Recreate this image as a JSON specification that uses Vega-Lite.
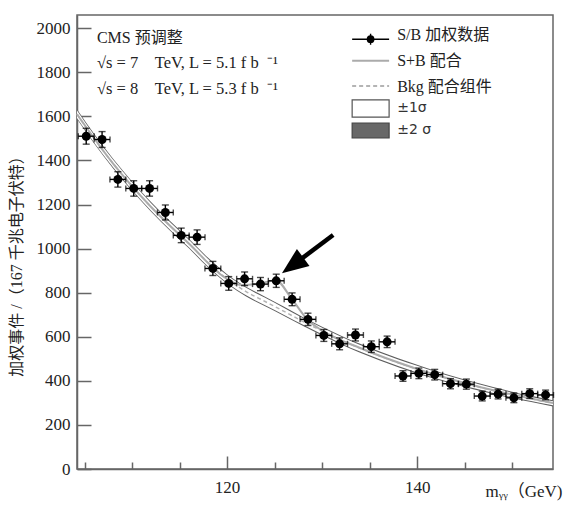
{
  "$schema": "https://vega.github.io/schema/vega-lite/v6.json",
  "width": 476,
  "height": 454,
  "autosize": {"type": "none"},
  "padding": {"left": 77, "top": 15, "right": 13, "bottom": 37},
  "background": "white",
  "config": {
    "view": {"stroke": "#666", "strokeWidth": 1.5},
    "font": "Liberation Serif",
    "axis": {
      "grid": false,
      "domainColor": "#666",
      "domainWidth": 1.5,
      "tickColor": "#666",
      "tickWidth": 1.5,
      "labelFont": "Liberation Serif, serif",
      "labelFontSize": 17,
      "labelColor": "#222",
      "labelFlush": false,
      "labelOverlap": false,
      "titleFont": "Liberation Serif, Noto Sans CJK SC",
      "titleFontWeight": "normal",
      "titleColor": "#222"
    }
  },
  "datasets": {
    "points": [
      {"m": 105.17, "n": 1510, "err": 36, "hw": 0.835},
      {"m": 106.84, "n": 1495, "err": 36, "hw": 0.835},
      {"m": 108.50, "n": 1314, "err": 35, "hw": 0.835},
      {"m": 110.17, "n": 1273, "err": 35, "hw": 0.835},
      {"m": 111.84, "n": 1273, "err": 35, "hw": 0.835},
      {"m": 113.50, "n": 1164, "err": 34, "hw": 0.835},
      {"m": 115.17, "n": 1060, "err": 33, "hw": 0.835},
      {"m": 116.84, "n": 1052, "err": 33, "hw": 0.835},
      {"m": 118.50, "n": 910, "err": 32, "hw": 0.835},
      {"m": 120.17, "n": 842, "err": 31, "hw": 0.835},
      {"m": 121.84, "n": 863, "err": 31, "hw": 0.835},
      {"m": 123.51, "n": 839, "err": 30, "hw": 0.835},
      {"m": 125.17, "n": 854, "err": 30, "hw": 0.835},
      {"m": 126.84, "n": 770, "err": 29, "hw": 0.835},
      {"m": 128.51, "n": 679, "err": 28, "hw": 0.835},
      {"m": 130.18, "n": 606, "err": 27, "hw": 0.835},
      {"m": 131.84, "n": 568, "err": 27, "hw": 0.835},
      {"m": 133.51, "n": 608, "err": 27, "hw": 0.835},
      {"m": 135.18, "n": 555, "err": 26, "hw": 0.835},
      {"m": 136.84, "n": 577, "err": 26, "hw": 0.835},
      {"m": 138.51, "n": 422, "err": 24, "hw": 0.835},
      {"m": 140.18, "n": 434, "err": 24, "hw": 0.835},
      {"m": 141.85, "n": 428, "err": 24, "hw": 0.835},
      {"m": 143.51, "n": 387, "err": 23, "hw": 0.835},
      {"m": 145.18, "n": 385, "err": 23, "hw": 0.835},
      {"m": 146.85, "n": 331, "err": 22, "hw": 0.835},
      {"m": 148.52, "n": 340, "err": 22, "hw": 0.835},
      {"m": 150.18, "n": 323, "err": 22, "hw": 0.835},
      {"m": 151.85, "n": 342, "err": 22, "hw": 0.835},
      {"m": 153.52, "n": 336, "err": 22, "hw": 0.835}
    ],
    "bkg": [
      {"m": 104.2, "c": 1610, "lo2": 1588, "lo1": 1593, "hi1": 1627, "hi2": 1632},
      {"m": 106, "c": 1499, "lo2": 1477, "lo1": 1482, "hi1": 1516, "hi2": 1521},
      {"m": 108, "c": 1386, "lo2": 1364, "lo1": 1369, "hi1": 1403, "hi2": 1408},
      {"m": 110, "c": 1283, "lo2": 1261, "lo1": 1266, "hi1": 1300, "hi2": 1305},
      {"m": 112, "c": 1189, "lo2": 1167, "lo1": 1172, "hi1": 1206, "hi2": 1211},
      {"m": 114, "c": 1103, "lo2": 1081, "lo1": 1086, "hi1": 1120, "hi2": 1125},
      {"m": 116, "c": 1022, "lo2": 1000, "lo1": 1005, "hi1": 1039, "hi2": 1044},
      {"m": 118, "c": 936, "lo2": 914, "lo1": 919, "hi1": 953, "hi2": 958},
      {"m": 120, "c": 862, "lo2": 840, "lo1": 845, "hi1": 879, "hi2": 884},
      {"m": 122, "c": 805, "lo2": 783, "lo1": 788, "hi1": 822, "hi2": 827},
      {"m": 124, "c": 760, "lo2": 738, "lo1": 743, "hi1": 777, "hi2": 782},
      {"m": 126, "c": 715, "lo2": 694, "lo1": 699, "hi1": 731, "hi2": 736},
      {"m": 128, "c": 669, "lo2": 649, "lo1": 654, "hi1": 684, "hi2": 689},
      {"m": 130, "c": 626, "lo2": 606, "lo1": 611, "hi1": 641, "hi2": 646},
      {"m": 132, "c": 585, "lo2": 565, "lo1": 570, "hi1": 600, "hi2": 605},
      {"m": 134, "c": 548, "lo2": 528, "lo1": 533, "hi1": 563, "hi2": 568},
      {"m": 136, "c": 514, "lo2": 494, "lo1": 499, "hi1": 529, "hi2": 534},
      {"m": 138, "c": 482, "lo2": 462, "lo1": 467, "hi1": 497, "hi2": 502},
      {"m": 140, "c": 453, "lo2": 433, "lo1": 438, "hi1": 468, "hi2": 473},
      {"m": 142, "c": 426, "lo2": 407, "lo1": 412, "hi1": 440, "hi2": 445},
      {"m": 144, "c": 401, "lo2": 383, "lo1": 388, "hi1": 414, "hi2": 419},
      {"m": 146, "c": 378, "lo2": 361, "lo1": 366, "hi1": 390, "hi2": 395},
      {"m": 148, "c": 356, "lo2": 340, "lo1": 345, "hi1": 367, "hi2": 372},
      {"m": 150, "c": 336, "lo2": 321, "lo1": 326, "hi1": 346, "hi2": 351},
      {"m": 152, "c": 318, "lo2": 304, "lo1": 309, "hi1": 327, "hi2": 332},
      {"m": 154.3, "c": 298, "lo2": 284, "lo1": 289, "hi1": 307, "hi2": 312}
    ],
    "sb": [
      {"m": 104.2, "n": 1610},
      {"m": 108, "n": 1386},
      {"m": 112, "n": 1189},
      {"m": 116, "n": 1022},
      {"m": 120, "n": 862},
      {"m": 121.5, "n": 835},
      {"m": 123.5, "n": 842},
      {"m": 125.1, "n": 857},
      {"m": 126.8, "n": 772},
      {"m": 128.5, "n": 676},
      {"m": 130, "n": 628},
      {"m": 134, "n": 549},
      {"m": 140, "n": 454},
      {"m": 146, "n": 379},
      {"m": 154.3, "n": 299}
    ],
    "one": [{}]
  },
  "layer": [
    {
      "data": {"name": "bkg"},
      "mark": {"type": "area", "color": "#5e5e5e", "interpolate": "monotone"},
      "encoding": {
        "x": {
          "field": "m",
          "type": "quantitative",
          "title": "mᵧᵧ（GeV)",
          "scale": {"domain": [104.2, 154.3], "nice": false, "zero": false},
          "axis": {
            "labelFont": "Liberation Serif, serif",
            "titleFont": "Liberation Serif, Noto Sans CJK SC",
            "titleFontSize": 17,
            "titleAnchor": "end",
            "titleAlign": "right",
            "titleBaseline": "top",
            "titleX": 485,
            "titleY": 14,
            "values": [105, 110, 115, 120, 125, 130, 135, 140, 145, 150],
            "labelExpr": "datum.value % 20 === 0 ? datum.value : ''",
            "labelPadding": 23,
            "tickSize": {"condition": {"test": "datum.value % 20 === 0", "value": -13}, "value": -7}
          }
        },
        "y": {
          "field": "lo2",
          "type": "quantitative",
          "title": "加权事件 /（167 千兆电子伏特）",
          "scale": {"domain": [0, 2060], "nice": false},
          "axis": {
            "labelFont": "Liberation Serif, serif",
            "titleFont": "Liberation Serif, Noto Sans CJK SC",
            "titleFontSize": 16,
            "titleAngle": -90,
            "titleAlign": "center",
            "titleBaseline": "middle",
            "titleX": -61,
            "titleY": 247,
            "values": [0, 50, 100, 150, 200, 250, 300, 350, 400, 450, 500, 550, 600, 650, 700, 750, 800, 850, 900, 950, 1000, 1050, 1100, 1150, 1200, 1250, 1300, 1350, 1400, 1450, 1500, 1550, 1600, 1650, 1700, 1750, 1800, 1850, 1900, 1950, 2000, 2050],
            "labelExpr": "datum.value % 200 === 0 ? datum.value : ''",
            "labelPadding": 21,
            "tickSize": {"condition": {"test": "datum.value % 200 === 0", "value": -14}, "value": -8}
          }
        },
        "y2": {"field": "hi2"}
      }
    },
    {
      "data": {"name": "bkg"},
      "mark": {"type": "area", "color": "white", "interpolate": "monotone"},
      "encoding": {
        "x": {"field": "m", "type": "quantitative", "title": "mᵧᵧ（GeV)"},
        "y": {"field": "lo1", "type": "quantitative", "title": "加权事件 /（167 千兆电子伏特）"},
        "y2": {"field": "hi1"}
      }
    },
    {
      "data": {"name": "bkg"},
      "mark": {"type": "line", "color": "#b4b4b4", "strokeWidth": 1.5, "strokeDash": [4, 3], "interpolate": "monotone"},
      "encoding": {
        "x": {"field": "m", "type": "quantitative", "title": "mᵧᵧ（GeV)"},
        "y": {"field": "c", "type": "quantitative", "title": "加权事件 /（167 千兆电子伏特）"}
      }
    },
    {
      "data": {"name": "sb"},
      "mark": {"type": "line", "color": "#ababab", "strokeWidth": 2, "interpolate": "monotone"},
      "encoding": {
        "x": {"field": "m", "type": "quantitative", "title": "mᵧᵧ（GeV)"},
        "y": {"field": "n", "type": "quantitative", "title": "加权事件 /（167 千兆电子伏特）"}
      }
    },
    {
      "data": {"name": "points"},
      "mark": {"type": "errorbar", "ticks": {"size": 7, "thickness": 1.4, "color": "#000"}, "rule": {"strokeWidth": 1.4, "color": "#000"}},
      "encoding": {
        "x": {"field": "m", "type": "quantitative", "title": "mᵧᵧ（GeV)"},
        "y": {"field": "n", "type": "quantitative", "title": "加权事件 /（167 千兆电子伏特）"},
        "yError": {"field": "err"}
      }
    },
    {
      "data": {"name": "points"},
      "mark": {"type": "errorbar", "ticks": {"size": 6, "thickness": 1.4, "color": "#000"}, "rule": {"strokeWidth": 1.4, "color": "#000"}},
      "encoding": {
        "y": {"field": "n", "type": "quantitative", "title": "加权事件 /（167 千兆电子伏特）"},
        "x": {"field": "m", "type": "quantitative", "title": "mᵧᵧ（GeV)"},
        "xError": {"field": "hw"}
      }
    },
    {
      "data": {"name": "points"},
      "mark": {"type": "point", "shape": "circle", "filled": true, "color": "#000", "opacity": 1, "size": 80},
      "encoding": {
        "x": {"field": "m", "type": "quantitative", "title": "mᵧᵧ（GeV)"},
        "y": {"field": "n", "type": "quantitative", "title": "加权事件 /（167 千兆电子伏特）"}
      }
    },
    {
      "data": {"name": "one"},
      "mark": {"type": "rule", "color": "#000", "strokeWidth": 4.5},
      "encoding": {
        "x": {"datum": 131.16},
        "y": {"datum": 1062},
        "x2": {"datum": 126.9},
        "y2": {"datum": 924}
      }
    },
    {
      "data": {"name": "one"},
      "mark": {"type": "point", "shape": "M0,-1L0.8,1L-0.8,1Z", "filled": true, "color": "#000", "opacity": 1, "size": 700, "angle": 233.5},
      "encoding": {
        "x": {"datum": 126.89},
        "y": {"datum": 924}
      }
    },
    {
      "data": {"name": "one"},
      "mark": {"type": "text", "align": "left", "baseline": "middle", "font": "Liberation Serif, Noto Sans CJK SC", "fontSize": 16, "color": "#222"},
      "encoding": {"x": {"datum": 106.3}, "y": {"datum": 1956}, "text": {"value": "CMS 预调整"}}
    },
    {
      "data": {"name": "one"},
      "mark": {"type": "text", "align": "left", "baseline": "middle", "font": "Liberation Serif", "fontSize": 16.5, "color": "#222"},
      "encoding": {"x": {"datum": 106.3}, "y": {"datum": 1843}, "text": {"value": "√s = 7\u00a0\u00a0\u00a0\u00a0TeV, L = 5.1 f b\u00a0\u00a0⁻¹"}}
    },
    {
      "data": {"name": "one"},
      "mark": {"type": "text", "align": "left", "baseline": "middle", "font": "Liberation Serif", "fontSize": 16.5, "color": "#222"},
      "encoding": {"x": {"datum": 106.3}, "y": {"datum": 1725}, "text": {"value": "√s = 8\u00a0\u00a0\u00a0\u00a0TeV, L = 5.3 f b\u00a0\u00a0⁻¹"}}
    },
    {
      "data": {"name": "one"},
      "mark": {"type": "rule", "color": "#000", "strokeWidth": 1.4},
      "encoding": {"x": {"datum": 133.16}, "x2": {"datum": 137.05}, "y": {"datum": 1950}}
    },
    {
      "data": {"name": "one"},
      "mark": {"type": "rule", "color": "#000", "strokeWidth": 1.4},
      "encoding": {"x": {"datum": 135.1}, "y": {"datum": 1925}, "y2": {"datum": 1975}}
    },
    {
      "data": {"name": "one"},
      "mark": {"type": "point", "shape": "circle", "filled": true, "color": "#000", "opacity": 1, "size": 60},
      "encoding": {"x": {"datum": 135.1}, "y": {"datum": 1950}}
    },
    {
      "data": {"name": "one"},
      "mark": {"type": "rule", "color": "#ababab", "strokeWidth": 2},
      "encoding": {"x": {"datum": 133.16}, "x2": {"datum": 137.05}, "y": {"datum": 1852}}
    },
    {
      "data": {"name": "one"},
      "mark": {"type": "rule", "color": "#b4b4b4", "strokeWidth": 2, "strokeDash": [4, 3]},
      "encoding": {"x": {"datum": 133.16}, "x2": {"datum": 137.05}, "y": {"datum": 1738}}
    },
    {
      "data": {"name": "one"},
      "mark": {"type": "rect", "fill": "white", "stroke": "#555", "strokeWidth": 1.2},
      "encoding": {"x": {"datum": 133.16}, "x2": {"datum": 137.05}, "y": {"datum": 1675}, "y2": {"datum": 1597}}
    },
    {
      "data": {"name": "one"},
      "mark": {"type": "rect", "fill": "#686868", "stroke": "#444", "strokeWidth": 1.2},
      "encoding": {"x": {"datum": 133.16}, "x2": {"datum": 137.05}, "y": {"datum": 1570}, "y2": {"datum": 1502}}
    },
    {
      "data": {"name": "one"},
      "mark": {"type": "text", "align": "left", "baseline": "middle", "font": "Liberation Serif, Noto Sans CJK SC", "fontSize": 16, "color": "#222"},
      "encoding": {"x": {"datum": 137.9}, "y": {"datum": 1968}, "text": {"value": "S/B 加权数据"}}
    },
    {
      "data": {"name": "one"},
      "mark": {"type": "text", "align": "left", "baseline": "middle", "font": "Liberation Serif, Noto Sans CJK SC", "fontSize": 16, "color": "#222"},
      "encoding": {"x": {"datum": 137.9}, "y": {"datum": 1852}, "text": {"value": "S+B 配合"}}
    },
    {
      "data": {"name": "one"},
      "mark": {"type": "text", "align": "left", "baseline": "middle", "font": "Liberation Serif, Noto Sans CJK SC", "fontSize": 16, "color": "#222"},
      "encoding": {"x": {"datum": 137.9}, "y": {"datum": 1734}, "text": {"value": "Bkg 配合组件"}}
    },
    {
      "data": {"name": "one"},
      "mark": {"type": "text", "align": "left", "baseline": "middle", "font": "DejaVu Sans", "fontSize": 14, "color": "#333"},
      "encoding": {"x": {"datum": 137.9}, "y": {"datum": 1636}, "text": {"value": "±1σ"}}
    },
    {
      "data": {"name": "one"},
      "mark": {"type": "text", "align": "left", "baseline": "middle", "font": "DejaVu Sans", "fontSize": 14, "color": "#333"},
      "encoding": {"x": {"datum": 137.9}, "y": {"datum": 1536}, "text": {"value": "±2 σ"}}
    }
  ]
}
